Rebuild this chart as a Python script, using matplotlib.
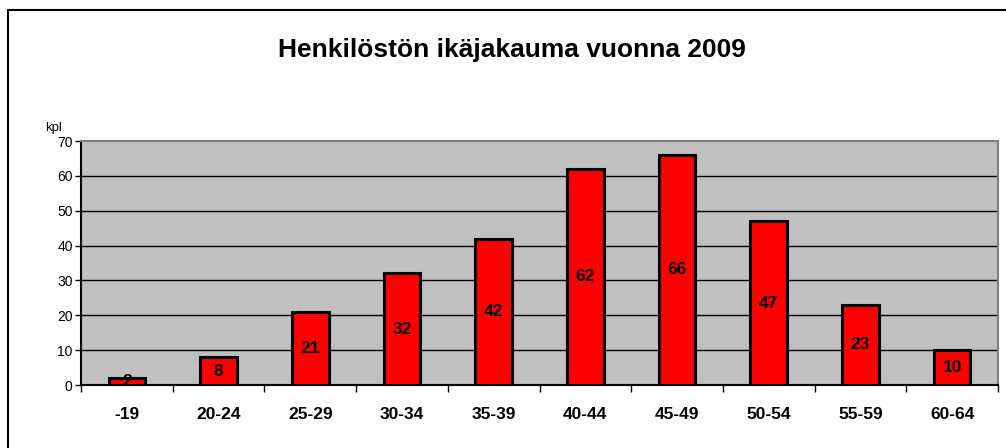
import matplotlib.pyplot as plt
from matplotlib.patches import Rectangle

plt.rcParams['font.family'] = ['Liberation Sans', 'DejaVu Sans']

ages = ['-19', '20-24', '25-29', '30-34', '35-39', '40-44', '45-49', '50-54', '55-59', '60-64']
counts = [2, 8, 21, 32, 42, 62, 66, 47, 23, 10]
yticks = [0, 10, 20, 30, 40, 50, 60, 70]

fig = plt.figure(figsize=(10.06, 4.48), dpi=100)
# outer chart border (right/bottom run off the picture)
fig.patches.append(Rectangle((8/1006, -0.1), 1.2, (448-10)/448 + 0.1, transform=fig.transFigure,
                             fill=False, edgecolor='black', linewidth=1.5))

ax = fig.add_axes([81/1006, (448-385)/448, (998-81)/1006, (385-141)/448])
ax.set_facecolor('#c0c0c0')

x = list(range(len(ages)))
ax.bar(x, counts, width=0.4, color='#ff0000', edgecolor='black', linewidth=2.2, zorder=3)
for xi, c in zip(x, counts):
    ax.text(xi, c / 2, str(c), ha='center', va='center', fontsize=12.5, fontweight='bold', zorder=4)

ax.set_xlim(-0.5, len(ages) - 0.5)
ax.set_ylim(0, 70)
ax.set_yticks(yticks)
ax.set_yticklabels([str(v) for v in yticks], fontsize=10)
for v in yticks[1:-1]:
    ax.axhline(v, color='black', linewidth=1, zorder=1)

ax.set_xticks([i - 0.5 for i in range(len(ages) + 1)], minor=False)
ax.set_xticklabels([])
ax.set_xticks(x, minor=True)
ax.set_xticklabels(ages, minor=True, fontsize=12.5, fontweight='bold')
ax.tick_params(axis='x', which='major', direction='out', length=5, width=1)
ax.tick_params(axis='x', which='minor', length=0, pad=16)
ax.tick_params(axis='y', direction='out', length=4, width=1, pad=2)

ax.spines['left'].set_linewidth(1.5)
ax.spines['bottom'].set_linewidth(1.5)
ax.spines['top'].set_color('#808080')
ax.spines['right'].set_color('#808080')
ax.spines['top'].set_linewidth(1.5)
ax.spines['right'].set_linewidth(1.5)

fig.text(54/1006, 1 - 128/448, 'kpl', ha='center', va='center', fontsize=9.5)
fig.text(512/1006, 1 - 50/448, 'Henkilöstön ikäjakauma vuonna 2009', ha='center', va='center',
         fontsize=19, fontweight='bold')

fig.savefig('out.png', dpi=100)
